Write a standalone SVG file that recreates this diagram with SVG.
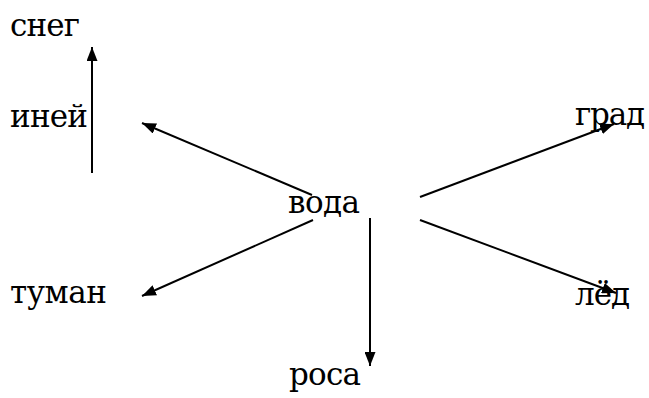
<svg xmlns="http://www.w3.org/2000/svg" width="649" height="398" viewBox="0 0 649 398">
<style>
text{font-family:"DejaVu Serif",serif;font-size:31px;fill:#000}
.c line{stroke:#000;stroke-width:2;fill:none;marker-end:url(#ah)}
</style>
<defs>
<marker id="ah" viewBox="0 0 14 11" refX="14" refY="5.5" markerWidth="14" markerHeight="11" markerUnits="userSpaceOnUse" orient="auto">
<path d="M0,0 L14,5.5 L0,11 Z" fill="#000"/>
</marker>
</defs>
<rect width="649" height="398" fill="#fff"/>
<g class="c" id="connectors">
<line x1="92" y1="173" x2="92" y2="47"/>
<line x1="312" y1="195" x2="142" y2="123"/>
<line x1="313" y1="220" x2="142" y2="296"/>
<line x1="420" y1="197" x2="614" y2="124"/>
<line x1="420" y1="220" x2="616" y2="293"/>
<line x1="370" y1="218" x2="370" y2="366"/>
</g>
<g id="voda"><text x="288" y="213" textLength="72">вода</text></g>
<g id="sneg"><text x="10" y="36" textLength="70">снег</text></g>
<g id="iney"><text x="10" y="127" textLength="78">иней</text></g>
<g id="grad"><text x="575" y="125" textLength="70">град</text></g>
<g id="tuman"><text x="10" y="303" textLength="97">туман</text></g>
<g id="led"><text x="575" y="305" textLength="55">лёд</text></g>
<g id="rosa"><text x="289" y="385" textLength="72">роса</text></g>
</svg>
